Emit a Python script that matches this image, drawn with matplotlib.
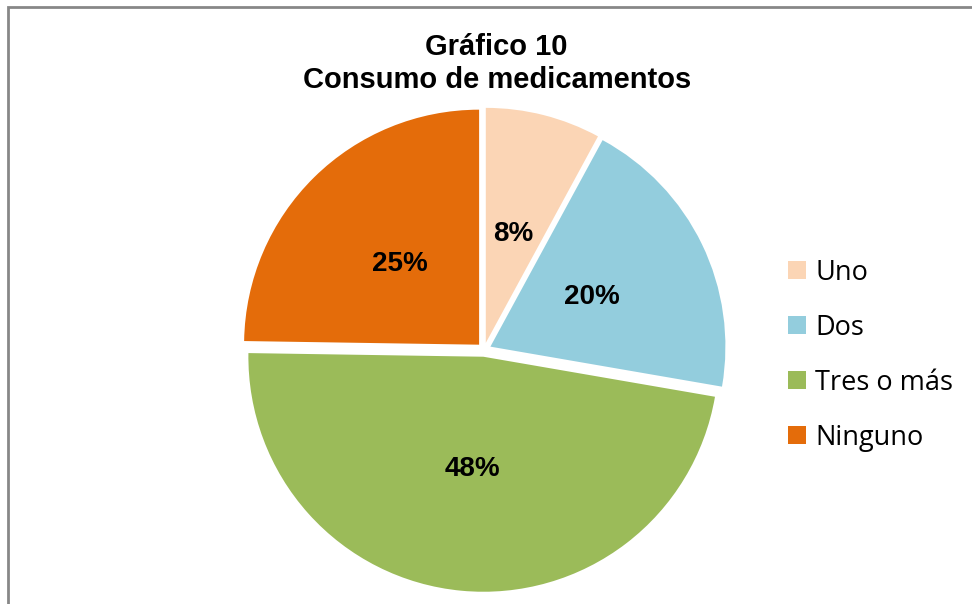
import numpy as np
import matplotlib.pyplot as plt
from matplotlib.patches import Rectangle

labels = ['Uno', 'Dos', 'Tres o más', 'Ninguno']
values = [8, 20, 48, 25]
colors = ['#FBD5B5', '#93CDDD', '#9BBB59', '#E46C0A']

fig = plt.figure(figsize=(9.72, 6.04), dpi=100)

# outer frame (cut off at right and bottom)
fig.patches.append(Rectangle((8 / 972, -0.05), 1.2, 1 - 7 / 604 + 0.05,
                             transform=fig.transFigure, fill=False,
                             edgecolor='#878787', linewidth=2))

ax = fig.add_axes([0.232, -0.007, 0.532, 0.856])
wedges, texts = ax.pie(values, colors=colors, startangle=90, counterclock=False,
                       explode=[0.03] * 4, radius=1.0)
ax.set_xlim(-1.1, 1.1)
ax.set_ylim(-1.1, 1.1)
ax.set_aspect('equal')

total = sum(values)
ang = 90.0
for v in values:
    mid = np.deg2rad(ang - v / total * 180.0)
    r = 0.51
    ax.text(r * np.cos(mid), r * np.sin(mid), f'{v}%', ha='center', va='center',
            fontsize=20, fontweight='bold', family='Liberation Sans')
    ang -= v / total * 360.0

fig.text(0.511, 0.895, 'Gráfico 10\nConsumo de medicamentos', ha='center', va='center',
         fontsize=21, fontweight='bold', family='Liberation Sans', linespacing=1.2)

leg = fig.legend(wedges, labels, loc='center left', bbox_to_anchor=(0.786, 0.412),
                 frameon=False, prop={'family': 'Open Sans', 'size': 19.5},
                 handlelength=0.65, handleheight=0.65, handletextpad=0.35,
                 labelspacing=1.0)

fig.savefig('out.png', dpi=100)
